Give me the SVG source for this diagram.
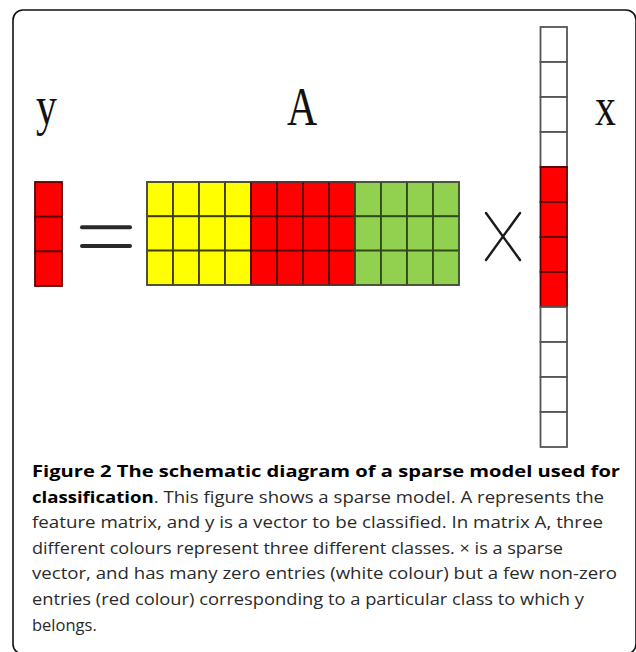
<svg xmlns="http://www.w3.org/2000/svg" width="636" height="652" viewBox="0 0 636 652">
<style>
.lbl{font-family:"Liberation Serif","Times New Roman",serif;font-size:55px;fill:#111}
.cap{font-family:"Open Sans","Liberation Sans",sans-serif;font-size:16.5px;fill:#2a2a2a}
.b{font-weight:bold;fill:#000}
.yel{fill:#FFFF00;stroke:#3d3d00;stroke-width:1.8}
.red{fill:#FF0000;stroke:#5a0000;stroke-width:1.8}
.grn{fill:#92D050;stroke:#2f4a18;stroke-width:1.8}
.wht{fill:#FFFFFF;stroke:#555;stroke-width:1.8}
.red2{fill:#FF0000;stroke:#5a0000;stroke-width:1.8}
</style>
<rect x="13" y="10" width="623" height="644" rx="10" ry="10" fill="none" stroke="#111" stroke-width="1.6"/>

<g id="label-y"><text class="lbl" transform="translate(36,124) scale(0.76,1)">y</text></g>
<g id="label-A"><text class="lbl" transform="translate(287,124.5) scale(0.76,1)">A</text></g>
<g id="label-x"><text class="lbl" transform="translate(595,124.5) scale(0.76,1)">x</text></g>

<g id="vector-y">
<rect class="red" x="35" y="182" width="27" height="34.7"/>
<rect class="red" x="35" y="216.7" width="27" height="34.7"/>
<rect class="red" x="35" y="251.4" width="27" height="34.6"/>
</g>

<g id="equals" stroke="#2a2a2a" stroke-width="4" stroke-linecap="round">
<line x1="82" y1="227.3" x2="130" y2="227.3"/>
<line x1="82" y1="246" x2="130" y2="246"/>
</g>

<g id="matrix-A">
<g id="class-yellow">
<rect class="yel" x="147" y="182" width="26" height="34.3"/><rect class="yel" x="173" y="182" width="26" height="34.3"/><rect class="yel" x="199" y="182" width="26" height="34.3"/><rect class="yel" x="225" y="182" width="26" height="34.3"/>
<rect class="yel" x="147" y="216.3" width="26" height="34.3"/><rect class="yel" x="173" y="216.3" width="26" height="34.3"/><rect class="yel" x="199" y="216.3" width="26" height="34.3"/><rect class="yel" x="225" y="216.3" width="26" height="34.3"/>
<rect class="yel" x="147" y="250.6" width="26" height="34.4"/><rect class="yel" x="173" y="250.6" width="26" height="34.4"/><rect class="yel" x="199" y="250.6" width="26" height="34.4"/><rect class="yel" x="225" y="250.6" width="26" height="34.4"/>
</g>
<g id="class-red">
<rect class="red" x="251" y="182" width="26" height="34.3"/><rect class="red" x="277" y="182" width="26" height="34.3"/><rect class="red" x="303" y="182" width="26" height="34.3"/><rect class="red" x="329" y="182" width="26" height="34.3"/>
<rect class="red" x="251" y="216.3" width="26" height="34.3"/><rect class="red" x="277" y="216.3" width="26" height="34.3"/><rect class="red" x="303" y="216.3" width="26" height="34.3"/><rect class="red" x="329" y="216.3" width="26" height="34.3"/>
<rect class="red" x="251" y="250.6" width="26" height="34.4"/><rect class="red" x="277" y="250.6" width="26" height="34.4"/><rect class="red" x="303" y="250.6" width="26" height="34.4"/><rect class="red" x="329" y="250.6" width="26" height="34.4"/>
</g>
<g id="class-green">
<rect class="grn" x="355" y="182" width="26" height="34.3"/><rect class="grn" x="381" y="182" width="26" height="34.3"/><rect class="grn" x="407" y="182" width="26" height="34.3"/><rect class="grn" x="433" y="182" width="26" height="34.3"/>
<rect class="grn" x="355" y="216.3" width="26" height="34.3"/><rect class="grn" x="381" y="216.3" width="26" height="34.3"/><rect class="grn" x="407" y="216.3" width="26" height="34.3"/><rect class="grn" x="433" y="216.3" width="26" height="34.3"/>
<rect class="grn" x="355" y="250.6" width="26" height="34.4"/><rect class="grn" x="381" y="250.6" width="26" height="34.4"/><rect class="grn" x="407" y="250.6" width="26" height="34.4"/><rect class="grn" x="433" y="250.6" width="26" height="34.4"/>
</g>
<rect x="147" y="182" width="312" height="103" fill="none" stroke="#555" stroke-width="1"/>
</g>

<g id="times" stroke="#1a1a1a" stroke-width="2.4" stroke-linecap="round">
<line x1="486" y1="213" x2="520" y2="260"/>
<line x1="520" y1="213" x2="486" y2="260"/>
</g>

<g id="vector-x">
<rect class="wht" x="540.5" y="27" width="26.5" height="35"/>
<rect class="wht" x="540.5" y="62" width="26.5" height="35"/>
<rect class="wht" x="540.5" y="97" width="26.5" height="35"/>
<rect class="wht" x="540.5" y="132" width="26.5" height="35"/>
<rect class="red2" x="540.5" y="167" width="26.5" height="35"/>
<rect class="red2" x="540.5" y="202" width="26.5" height="35"/>
<rect class="red2" x="540.5" y="237" width="26.5" height="35"/>
<rect class="red2" x="540.5" y="272" width="26.5" height="35"/>
<rect class="wht" x="540.5" y="307" width="26.5" height="35"/>
<rect class="wht" x="540.5" y="342" width="26.5" height="35"/>
<rect class="wht" x="540.5" y="377" width="26.5" height="35"/>
<rect class="wht" x="540.5" y="412" width="26.5" height="35"/>
</g>

<g id="caption" class="cap">
<text x="32" y="477" textLength="588" lengthAdjust="spacingAndGlyphs" class="cap b">Figure 2 The schematic diagram of a sparse model used for</text>
<text x="32" y="502.6" textLength="572" lengthAdjust="spacingAndGlyphs" class="cap"><tspan class="b">classification</tspan>. This figure shows a sparse model. A represents the</text>
<text x="32" y="528.2" textLength="571" lengthAdjust="spacingAndGlyphs" class="cap">feature matrix, and y is a vector to be classified. In matrix A, three</text>
<text x="32" y="553.8" textLength="531" lengthAdjust="spacingAndGlyphs" class="cap">different colours represent three different classes. × is a sparse</text>
<text x="32" y="579.4" textLength="585" lengthAdjust="spacingAndGlyphs" class="cap">vector, and has many zero entries (white colour) but a few non-zero</text>
<text x="32" y="605" textLength="552" lengthAdjust="spacingAndGlyphs" class="cap">entries (red colour) corresponding to a particular class to which y</text>
<text x="32" y="630.6" class="cap">belongs.</text>
</g>
</svg>
